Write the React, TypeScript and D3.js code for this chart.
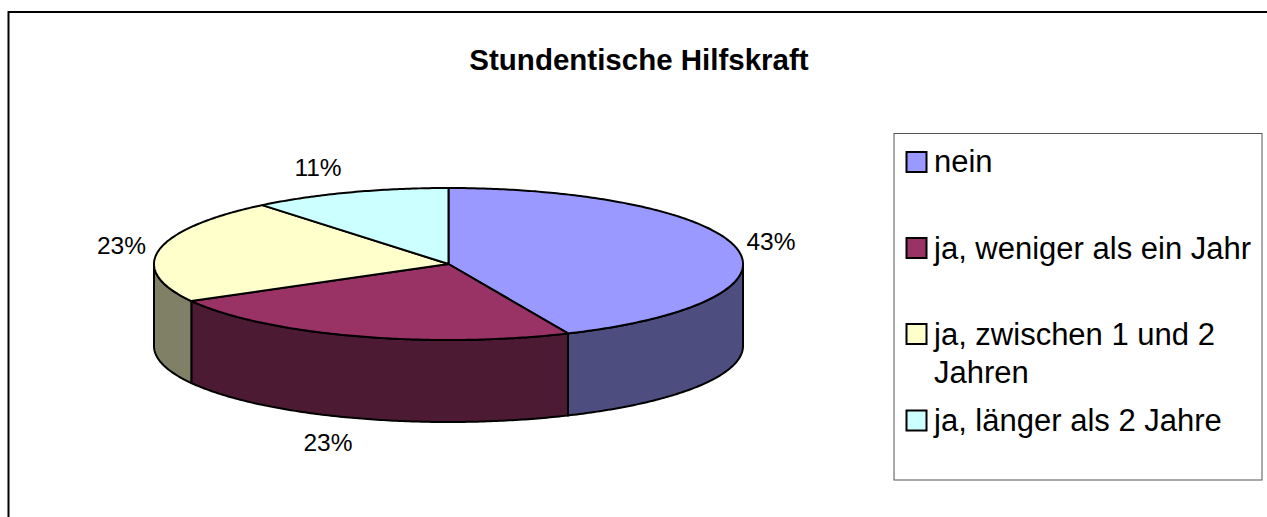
import React from "react";
import * as d3 from "d3";

const categories = ["nein", "ja, weniger als ein Jahr", "ja, zwischen 1 und 2 Jahren", "ja, länger als 2 Jahre"];
// Slice sizes as they appear on the tilted pie; the printed labels are kept separately.
const values = [43.35, 23.55, 22.2, 10.9];
const percentLabels = ["43%", "23%", "23%", "11%"];
const legendLines = [["nein"], ["ja, weniger als ein Jahr"], ["ja, zwischen 1 und 2", "Jahren"], ["ja, länger als 2 Jahre"]];
const topColors = ["#9999FF", "#993366", "#FFFFCC", "#CCFFFF"];
const sideColors = ["#4D4D80", "#4D1A33", "#808066", "#668080"];
const title = "Stundentische Hilfskraft";

const W = 1267, H = 517;
const cx = 448.5, cy = 264, rx = 294.5, ry = 76, depth = 82;
const FONT = "'Liberation Sans', Arial, sans-serif";

const pie = d3.pie<number>().sort(null).value((d) => d);
const arcs = pie(values);

const px = (a: number) => cx + rx * Math.sin(a);
const py = (a: number) => cy - ry * Math.cos(a);
const line = d3.line<[number, number]>();
const rim = (a0: number, a1: number, dy = 0) => {
  const n = Math.max(2, Math.ceil((a1 - a0) * 90));
  return d3.range(n + 1).map((i) => {
    const a = a0 + ((a1 - a0) * i) / n;
    return [px(a), py(a) + dy] as [number, number];
  });
};
const topPath = (a0: number, a1: number) => line([[cx, cy], ...rim(a0, a1)])! + "Z";
const sidePath = (a0: number, a1: number) => line([...rim(a0, a1), ...rim(a0, a1, depth).reverse()])! + "Z";

const labelPos = [
  { x: 771, y: 243.5 },
  { x: 328, y: 444.5 },
  { x: 121.5, y: 247.5 },
  { x: 318, y: 170 },
];

const legendX = 894, legendY = 133.5, legendW = 368, legendH = 346.5;
const swatchY = [162, 248, 334, 420.5];
const baselineY = [172, 258.5, 344.5, 431];

export default function App() {
  return (
    <svg width={W} height={H} style={{ position: "absolute", left: 0, top: 0, background: "#fff" }} fontFamily={FONT}>
      <rect x={8.5} y={12} width={W + 20} height={H + 20} fill="#fff" stroke="#000" strokeWidth={2} />
      <text x={639} y={70} textAnchor="middle" fontSize={29.5} fontWeight="bold" fill="#000">{title}</text>
      {arcs.map((d, i) => {
        const a0 = Math.max(d.startAngle, Math.PI / 2);
        const a1 = Math.min(d.endAngle, (3 * Math.PI) / 2);
        return a1 > a0 ? (
          <path key={i} d={sidePath(a0, a1)} fill={sideColors[i]} stroke="#000" strokeWidth={2} strokeLinejoin="round" />
        ) : null;
      })}
      {arcs.map((d, i) => (
        <path key={i} d={topPath(d.startAngle, d.endAngle)} fill={topColors[i]} stroke="#000" strokeWidth={2} strokeLinejoin="round" />
      ))}
      {arcs.map((d, i) => (
        <text key={i} x={labelPos[i].x} y={labelPos[i].y} textAnchor="middle" dominantBaseline="middle" fontSize={24.5} fill="#000">
          {percentLabels[i]}
        </text>
      ))}
      <rect x={legendX} y={legendY} width={legendW} height={legendH} fill="#fff" stroke="#555" strokeWidth={1} />
      {categories.map((c, i) => (
        <g key={c}>
          <rect x={906.5} y={swatchY[i] - 10} width={20} height={20} fill={topColors[i]} stroke="#000" strokeWidth={2} />
          {legendLines[i].map((t, j) => (
            <text key={j} x={934} y={baselineY[i] + j * 38} fontSize={31} fill="#000">{t}</text>
          ))}
        </g>
      ))}
    </svg>
  );
}
